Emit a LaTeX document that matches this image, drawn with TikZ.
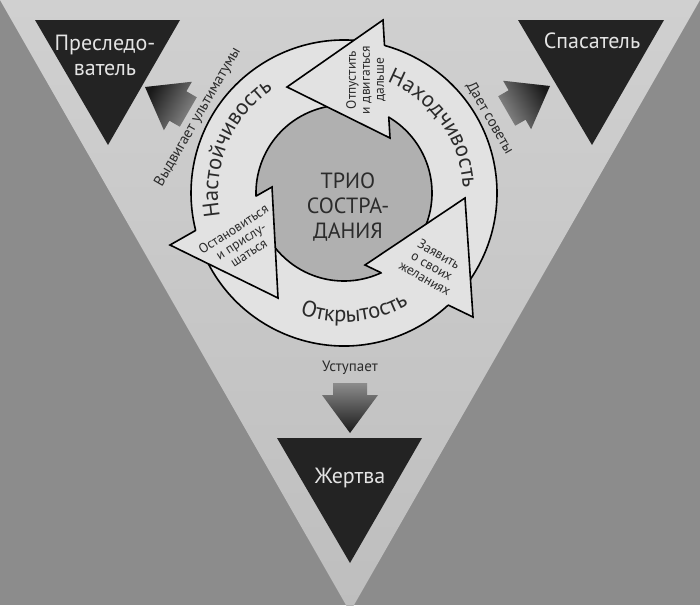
\documentclass[tikz,border=0pt]{standalone}
\usepackage{fontspec}
\setmainfont{PT Sans}
\usetikzlibrary{calc,intersections,decorations.text}

\definecolor{bgcol}{HTML}{8C8C8C}
\definecolor{bigtop}{HTML}{D0D0D0}
\definecolor{bigbot}{HTML}{BEBEBE}
\definecolor{rolecol}{HTML}{232323}
\definecolor{rolefont}{HTML}{E4E4E4}
\definecolor{ringcol}{HTML}{E2E2E2}
\definecolor{corecol}{HTML}{B0B0B0}
\definecolor{txtcol}{HTML}{2B2B2B}

\newcommand{\bandfont}{\fontsize{22.5}{22.5}\selectfont\color{txtcol}}

\tikzset{
   roletri/.style={fill=rolecol},
   rolename/.style={text=rolefont, font=\fontsize{22}{25}\selectfont, align=center, anchor=base},
   band/.style={fill=ringcol, draw=black, line width=1.6pt},
   headline/.style={draw=black, line width=1.6pt, line cap=round},
   headtxt/.style={text=txtcol, font=\fontsize{13.5}{14}\selectfont, align=center},
   sidetxt/.style={text=txtcol, font=\fontsize{15}{15}\selectfont},
   pusharrow/.style={top color=black!90, bottom color=black!45}
}

\begin{document}
\begin{tikzpicture}[x=1pt,y=-1pt]
   \fill[bgcol] (0,0) rectangle (700,605);
   \useasboundingbox (0,0) rectangle (700,605);
   \shade[top color=bigtop, bottom color=bigbot] (0,0) -- (700,0) -- (350,612) -- cycle;

   \fill[roletri] (35,20) -- (180,20) -- (108,145) -- cycle;
   \fill[roletri] (518,20) -- (664,20) -- (592,145) -- cycle;
   \fill[roletri] (277,438) -- (422,438) -- (350,563) -- cycle;
   \node[rolename] (persecutor) at (105,75) {Преследо-\\ватель};
   \node[rolename] (rescuer) at (592,48) {Спасатель};
   \node[rolename] (victim) at (350,483) {Жертва};

   \begin{scope}[shift={(145,87)},rotate=-120]
      \shade[pusharrow, shading angle=60] (0,0) -- (-28,-38) -- (-17,-38) -- (-17,-50) -- (17,-50) -- (17,-38) -- (28,-38) -- cycle;
   \end{scope}
   \begin{scope}[shift={(550,86)},rotate=120]
      \shade[pusharrow, shading angle=-60] (0,0) -- (-28,-38) -- (-17,-38) -- (-17,-50) -- (17,-50) -- (17,-38) -- (28,-38) -- cycle;
   \end{scope}
   \begin{scope}[shift={(350,433)}]
      \shade[pusharrow, shading angle=180] (0,0) -- (-28,-38) -- (-17,-38) -- (-17,-50) -- (17,-50) -- (17,-38) -- (28,-38) -- cycle;
   \end{scope}
   \node[sidetxt, rotate=60] (ultimatum) at (198,117) {Выдвигает ультиматумы};
   \node[sidetxt, rotate=-60] (advice) at (490,118) {Дает советы};
   \node[sidetxt] (yield) at (350,368) {Уступает};

   \coordinate (C) at (344,193);
   \fill[corecol] (C) circle (88);
   \path[name path=outer] (C) circle (153);
   \path[name path=inner] (C) circle (88);

   \draw[band] ($(C)+(-78:153)$) arc[start angle=-78, end angle=-200, radius=153]
      -- ($(C)+(-200:88)$) arc[start angle=-200, end angle=-78, radius=88] -- cycle;
   \draw[band] ($(C)+(40:153)$) arc[start angle=40, end angle=-82, radius=153]
      -- ($(C)+(-82:88)$) arc[start angle=-82, end angle=40, radius=88] -- cycle;
   \draw[band] ($(C)+(158:153)$) arc[start angle=158, end angle=38, radius=153]
      -- ($(C)+(38:88)$) arc[start angle=38, end angle=158, radius=88] -- cycle;

   \coordinate (T1) at (287,87);
   \coordinate (T2) at (383,20);
   \coordinate (T3) at (390,138);
   \path[name path=baseT] (T2) -- (T3);
   \path[name intersections={of=outer and baseT, by=To}];
   \path[name intersections={of=inner and baseT, by=Ti}];
   \fill[ringcol] (T1) -- (T2) -- (T3) -- cycle;
   \draw[headline] (To) -- (T2) -- (T1) -- (T3) -- (Ti);

   \coordinate (R1) at (365,265);
   \coordinate (R2) at (465,198);
   \coordinate (R3) at (473,317);
   \path[name path=baseR] (R3) -- (R1);
   \path[name intersections={of=outer and baseR, by=Ro}];
   \path[name intersections={of=inner and baseR, by=Ri}];
   \fill[ringcol] (R1) -- (R2) -- (R3) -- cycle;
   \draw[headline] (Ro) -- (R3) -- (R2) -- (R1) -- (Ri);

   \coordinate (L1) at (170,245);
   \coordinate (L2) at (272,187);
   \coordinate (L3) at (278,298);
   \path[name path=baseL] (L1) -- (L2);
   \path[name intersections={of=outer and baseL, by=Lo}];
   \path[name intersections={of=inner and baseL, by=Li}];
   \fill[ringcol] (L1) -- (L2) -- (L3) -- cycle;
   \draw[headline] (Lo) -- (L1) -- (L3) -- (L2) -- (Li);

   \path[decorate, decoration={text along path, text align=center,
      text={|\bandfont|Настойчивость}}]
      ($(C)+(150:126)$) arc[start angle=150, end angle=255, radius=126];
   \path[decorate, decoration={text along path, text align=center,
      text={|\bandfont|Находчивость}}]
      ($(C)+(-85:119)$) arc[start angle=-85, end angle=14, radius=119];
   \path[decorate, decoration={text along path, text align=center,
      text={|\bandfont|Открытость}}]
      ($(C)+(135:129)$) arc[start angle=135, end angle=35, radius=129];

   \node[headtxt, rotate=90] (letgo) at (366,80) {Отпустить\\и двигаться\\дальше};
   \node[headtxt, rotate=-30] (speakup) at (432,266) {Заявить\\о своих\\желаниях};
   \node[headtxt, rotate=33] (listen) at (241,241) {Остановиться\\и прислу-\\шаться};

   \node[text=txtcol, font=\fontsize{22}{25}\selectfont, align=center, anchor=base] (trio) at (348,238) {ТРИО\\СОСТРА-\\ДАНИЯ};
\end{tikzpicture}
\end{document}
